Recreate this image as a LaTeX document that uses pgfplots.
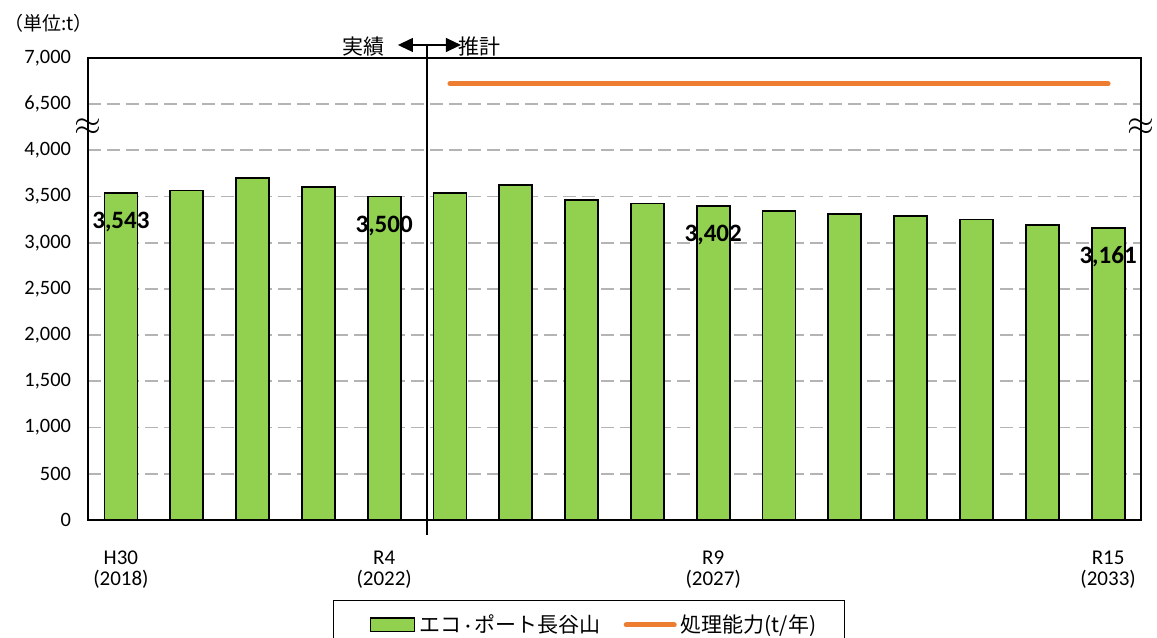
\documentclass[border=0pt]{standalone}
\usepackage{fontspec}
\setmainfont{Carlito}
\newfontfamily\jp{Noto Sans CJK JP}
\usepackage{pgfplots}
\pgfplotsset{compat=1.18}
\usetikzlibrary{arrows.meta}
\definecolor{barg}{HTML}{92D050}
\definecolor{lineo}{HTML}{ED7D31}
\definecolor{gridg}{HTML}{B4B4B4}
\begin{document}
\begin{tikzpicture}
\begin{axis}[
  name=ax,
  scale only axis, width=526.5pt, height=231pt,
  xmin=-0.5, xmax=15.5, ymin=0, ymax=5000,
  xtick={0,4,9,15},
  xticklabels={{H30\\(2018)},{R4\\(2022)},{R9\\(2027)},{R15\\(2033)}},
  xticklabel style={align=center, font=\fontsize{10.5}{10.5}\selectfont, yshift=-12pt},
  ytick={0,500,1000,1500,2000,2500,3000,3500,4000,4500,5000},
  yticklabels={0,500,{1,000},{1,500},{2,000},{2,500},{3,000},{3,500},{4,000},{6,500},{7,000}},
  yticklabel style={font=\fontsize{10.2}{12}\selectfont, xshift=-5pt},
  major tick length=0pt,
  ymajorgrids,
  grid style={gridg, dash pattern=on 6.5pt off 3pt, line width=0.9pt},
  axis line style={black, line width=0.8pt},
  clip=false,
  legend style={at={(0.2327,0)}, anchor=north west, yshift=-40pt,
    legend columns=2, draw=black, line width=0.6pt,
    font=\jp\fontsize{10.5}{12}\selectfont,
    /tikz/every even column/.append style={column sep=9.5pt},
    inner xsep=12pt, inner ysep=5pt},
]
\addplot[ybar, bar width=16.5pt, bar shift=0pt, fill=barg, draw=black, line width=0.9pt,
  legend image code/.code={\path (0pt,0pt); \draw[fill=barg,draw=black,line width=0.9pt] (6pt,-3.3pt) rectangle (28pt,3.3pt);}]
  table {
x y
0 3543
1 3565
2 3698
3 3601
4 3500
5 3540
6 3622
7 3460
8 3425
9 3402
10 3345
11 3309
12 3287
13 3251
14 3190
15 3161
};
\addlegendentry{エコ{\fontspec{Carlito}\kern2pt·\kern2pt}ポート長谷山}
\addplot[lineo, line width=2.5pt, line cap=round,
  legend image code/.code={\draw[lineo, line width=2.5pt, line cap=round] (0pt,0pt) -- (24pt,0pt);}]
  table {
x y
5 4720
15 4720
};
\addlegendentry{処理能力(t/年)}
\addplot[ybar, bar width=16.5pt, bar shift=0pt, draw=none, fill=none, forget plot,
  point meta=explicit symbolic, nodes near coords,
  nodes near coords style={anchor=center, yshift=-14.5pt, font=\bfseries\fontsize{12.5}{14}\selectfont, text=black}]
  table[meta=l] {
x y l
0 3543 3,543
4 3500 3,500
9 3402 3,402
15 3161 3,161
};
\node[font=\fontsize{16}{16}\selectfont] at (axis cs:-0.5,4250) {$\approx$};
\node[font=\fontsize{16}{16}\selectfont] at (axis cs:15.5,4250) {$\approx$};
\draw[line width=0.9pt] ([yshift=-7.5pt]axis cs:4.65,0) -- ([yshift=7pt]axis cs:4.65,5000);
\draw[{Triangle[length=7.5pt,width=7pt]}-{Triangle[length=7.5pt,width=7pt]}, line width=0.6pt]
  ([xshift=-14.5pt,yshift=6.5pt]axis cs:4.65,5000) -- ([xshift=17pt,yshift=6.5pt]axis cs:4.65,5000);
\node[anchor=east, font=\jp\fontsize{10.5}{12}\selectfont, inner sep=0pt] at ([xshift=-21pt,yshift=5.5pt]axis cs:4.65,5000) {実績};
\node[anchor=west, font=\jp\fontsize{10.5}{12}\selectfont, inner sep=0pt] at ([xshift=15.5pt,yshift=5.5pt]axis cs:4.65,5000) {推計};
\node[anchor=west, font=\jp\fontsize{9.5}{11}\selectfont, inner sep=0pt] at ([xshift=-42pt,yshift=17.5pt]rel axis cs:0,1) {（単位:t）};
\end{axis}
\pgfresetboundingbox
\path ([xshift=-44pt,yshift=-59pt]ax.south west) rectangle ([xshift=8pt,yshift=29pt]ax.north east);
\end{tikzpicture}
\end{document}
